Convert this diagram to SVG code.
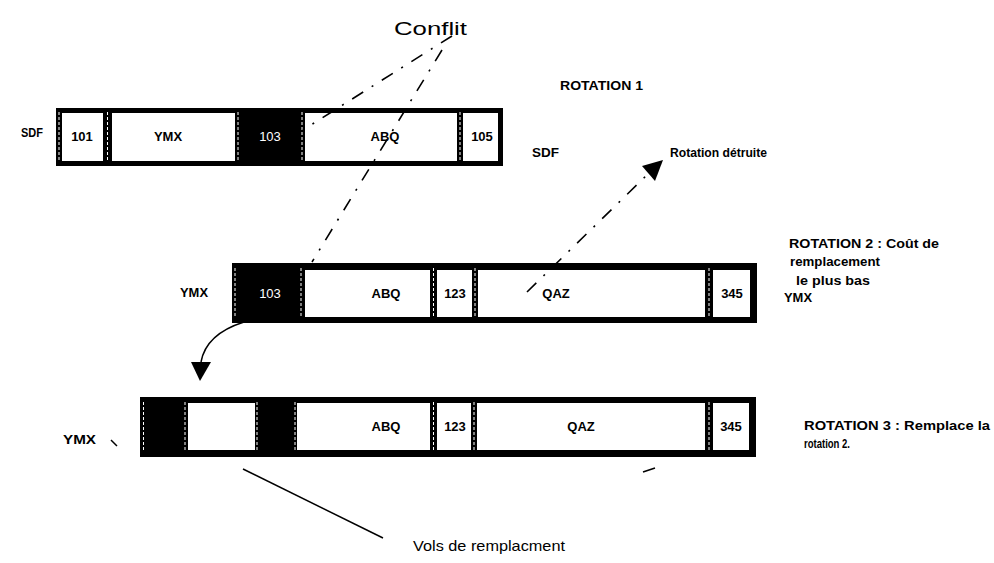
<svg xmlns="http://www.w3.org/2000/svg" width="994" height="563" viewBox="0 0 994 563">
<style>
  .t{font-family:"Liberation Sans",Arial,sans-serif;font-weight:bold;font-size:13px;fill:#000}
  .c{font-family:"Liberation Sans",Arial,sans-serif;font-weight:bold;font-size:13px;fill:#000;text-anchor:middle}
  .w{font-family:"Liberation Sans",Arial,sans-serif;font-size:13px;fill:#fff;text-anchor:middle}
  .frame{fill:#000}
  .cell{fill:#fff}
  .sep{stroke:#fff;stroke-width:1;stroke-dasharray:3 2;fill:none}
  .dd{stroke:#000;stroke-width:1.6;fill:none;stroke-dasharray:13 10 2 10}
  .ln{stroke:#000;stroke-width:1.5;fill:none}
</style>
<rect width="994" height="563" fill="#fff"/>

<g id="title">
  <text x="394" y="35" font-family="Liberation Sans,Arial,sans-serif" font-size="19" textLength="73" lengthAdjust="spacingAndGlyphs">Conflit</text>
</g>

<g id="rotation1">
  <rect class="frame" x="56" y="108" width="447" height="58"/>
  <rect class="cell" x="62" y="113" width="41" height="48"/>
  <rect class="cell" x="112" y="113" width="123" height="48"/>
  <rect class="cell" x="305" y="113" width="152" height="48"/>
  <rect class="cell" x="463" y="113" width="35" height="48"/>
  <path class="sep" d="M59,112V162M107.5,112V162M238,112V162M302,112V162M460,112V162"/>
  <text class="c" x="82" y="141">101</text>
  <text class="c" x="168" y="141">YMX</text>
  <text class="w" x="270" y="141">103</text>
  <text class="c" x="385" y="141">ABQ</text>
  <text class="c" x="482" y="141">105</text>
</g>

<g id="rotation2">
  <rect class="frame" x="232" y="263" width="525" height="60"/>
  <rect class="cell" x="305" y="270" width="125" height="47"/>
  <rect class="cell" x="437" y="270" width="35" height="47"/>
  <rect class="cell" x="478" y="270" width="227" height="47"/>
  <rect class="cell" x="713" y="270" width="37" height="47"/>
  <path class="sep" d="M235,268V318M301,268V318M433.5,268V318M475,268V318M709,268V318"/>
  <text class="w" x="270" y="298">103</text>
  <text class="c" x="386" y="298">ABQ</text>
  <text class="c" x="455" y="298">123</text>
  <text class="c" x="556" y="298">QAZ</text>
  <text class="c" x="732" y="298">345</text>
</g>

<g id="rotation3">
  <rect class="frame" x="140" y="397" width="616" height="60"/>
  <rect class="cell" x="188" y="403" width="67" height="47"/>
  <rect class="cell" x="297" y="403" width="133" height="47"/>
  <rect class="cell" x="437" y="403" width="34" height="47"/>
  <rect class="cell" x="477" y="403" width="228" height="47"/>
  <rect class="cell" x="713" y="403" width="36" height="47"/>
  <path class="sep" d="M143.5,402V452M185,402V452M257,402V452M295,402V452M433.5,402V452M474,402V452M709,402V452"/>
  <text class="c" x="386" y="431">ABQ</text>
  <text class="c" x="455" y="431">123</text>
  <text class="c" x="581" y="431">QAZ</text>
  <text class="c" x="731" y="431">345</text>
</g>

<g id="labels">
  <text class="t" x="21" y="137" textLength="22" lengthAdjust="spacingAndGlyphs">SDF</text>
  <text class="t" x="560" y="90" textLength="83" lengthAdjust="spacingAndGlyphs">ROTATION 1</text>
  <text class="t" x="532" y="157" textLength="27" lengthAdjust="spacingAndGlyphs">SDF</text>
  <text class="t" x="670" y="157" textLength="97" lengthAdjust="spacingAndGlyphs">Rotation détruite</text>
  <text class="t" x="180" y="297" textLength="28" lengthAdjust="spacingAndGlyphs">YMX</text>
  <text class="t" x="789" y="248" textLength="150" lengthAdjust="spacingAndGlyphs">ROTATION 2 : Coût de</text>
  <text class="t" x="790" y="266" textLength="90" lengthAdjust="spacingAndGlyphs">remplacement</text>
  <text class="t" x="796" y="285" textLength="74" lengthAdjust="spacingAndGlyphs">le plus bas</text>
  <text class="t" x="784" y="302" textLength="28" lengthAdjust="spacingAndGlyphs">YMX</text>
  <text class="t" x="63" y="444" textLength="33" lengthAdjust="spacingAndGlyphs">YMX</text>
  <text class="t" x="804" y="430" textLength="186" lengthAdjust="spacingAndGlyphs">ROTATION 3 :  Remplace la</text>
  <text class="t" x="804" y="448" textLength="46" lengthAdjust="spacingAndGlyphs">rotation 2.</text>
  <text x="413" y="551" font-family="Liberation Sans,Arial,sans-serif" font-size="15" textLength="152" lengthAdjust="spacingAndGlyphs">Vols de remplacment</text>
</g>

<g id="connectors">
  <path class="dd" d="M452,36L303,130"/>
  <path class="dd" d="M442,50L312,262"/>
  <path class="dd" d="M527,292L650,172"/>
  <polygon points="642,166 663,160 655,181" fill="#000"/>
  <path class="ln" d="M244,322C225,328 205,340 201,362"/>
  <polygon points="191,362 211,362 200,381" fill="#000"/>
  <path class="ln" d="M243,469L383,538"/>
  <path class="ln" d="M111,440L117,446"/>
  <path class="ln" d="M643,472L655,468"/>
</g>
</svg>
